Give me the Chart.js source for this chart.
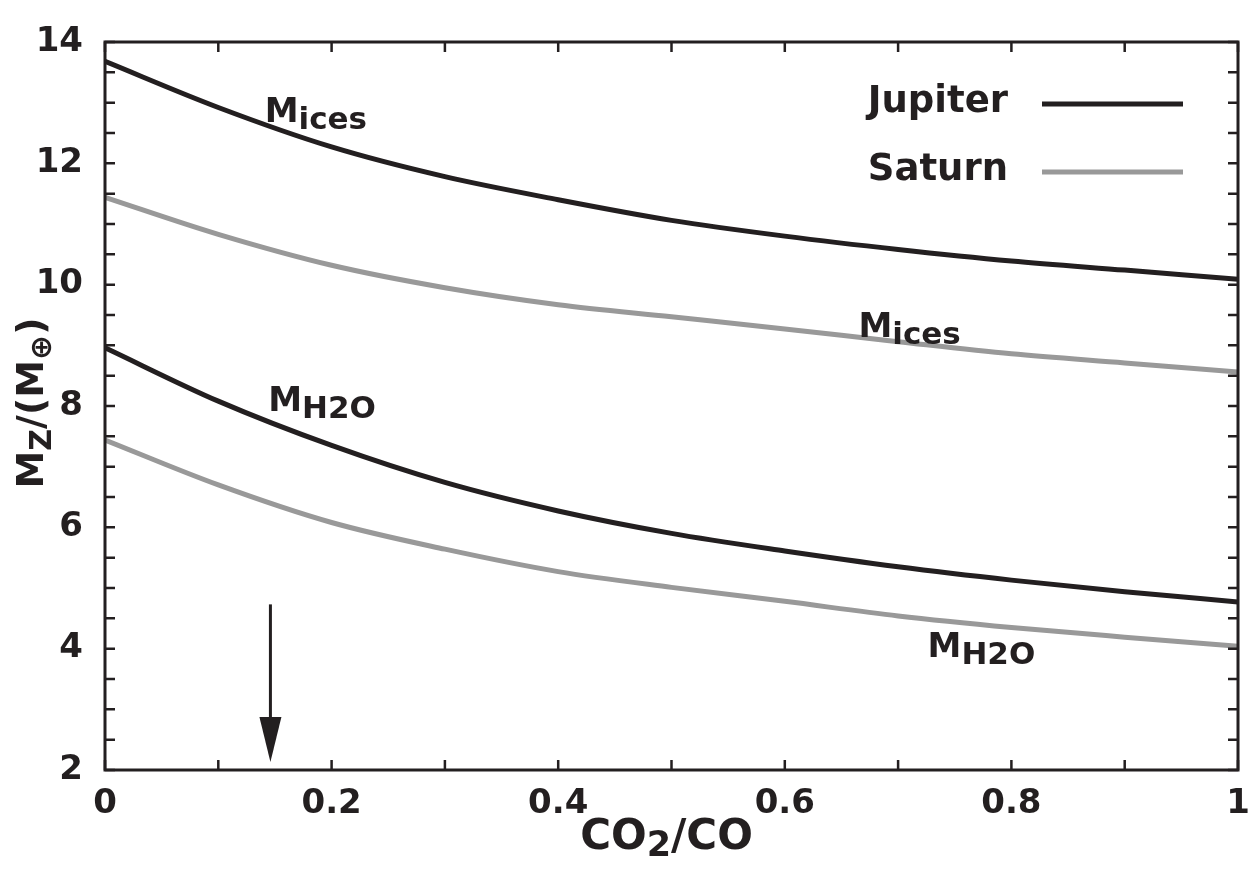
<!DOCTYPE html>
<html>
<head>
<meta charset="utf-8">
<script src="https://cdn.jsdelivr.net/npm/chart.js@4.4.0/dist/chart.umd.min.js"></script>
<style>
  html, body { margin: 0; padding: 0; background: #fff; }
  #wrap { width: 1250px; height: 873px; }
</style>
</head>
<body>
<div id="wrap"><canvas id="massChart"></canvas></div>
<script>
// CO2/CO ratio and heavy-element masses (Earth masses)
const ratio = [0, 0.1, 0.2, 0.3, 0.4, 0.5, 0.6, 0.7, 0.8, 0.9, 1];
const jupiterIces = [13.68, 12.92, 12.27, 11.78, 11.40, 11.06, 10.80, 10.58, 10.39, 10.24, 10.09];
const saturnIces = [11.44, 10.83, 10.32, 9.95, 9.67, 9.47, 9.27, 9.06, 8.86, 8.71, 8.56];
const jupiterH2O = [8.96, 8.08, 7.35, 6.74, 6.27, 5.90, 5.61, 5.35, 5.13, 4.94, 4.77];
const saturnH2O = [7.44, 6.70, 6.08, 5.64, 5.27, 5.01, 4.78, 4.54, 4.35, 4.19, 4.04];
const planets = ['Jupiter', 'Saturn'];

// arrow marking the adopted ratio
const arrowX = 0.146;
const arrowFrom = 4.73;
const arrowTo = 2.13;

const ink = '#231f20';
const grey = '#999999';
const family = '"DejaVu Sans", Verdana, sans-serif';

function pts(ys) {
    return ys.map((y, i) => ({ x: ratio[i], y: y }));
}

// text with a subscript part
function subText(ctx, x, y, parts, size, subSize, drop) {
    ctx.textAlign = 'left';
    ctx.textBaseline = 'alphabetic';
    parts.forEach(p => {
        const s = p[1] ? subSize : size;
        ctx.font = 'bold ' + s + 'px ' + family;
        ctx.fillText(p[0], x, y + (p[1] ? drop : 0));
        x += ctx.measureText(p[0]).width;
    });
    return x;
}
function subWidth(ctx, parts, size, subSize) {
    let w = 0;
    parts.forEach(p => {
        ctx.font = 'bold ' + (p[1] ? subSize : size) + 'px ' + family;
        w += ctx.measureText(p[0]).width;
    });
    return w;
}

const framePlugin = {
    id: 'frame',
    afterDatasetsDraw(chart) {
        const ctx = chart.ctx;
        const a = chart.chartArea;
        const xs = chart.scales.x, ys = chart.scales.y;
        ctx.save();
        ctx.strokeStyle = ink;
        ctx.fillStyle = ink;

        // inward ticks on all sides
        ctx.lineWidth = 2.5;
        ctx.beginPath();
        xs.ticks.forEach(t => {
            const px = xs.getPixelForValue(t.value);
            ctx.moveTo(px, a.bottom); ctx.lineTo(px, a.bottom - 10);
            ctx.moveTo(px, a.top); ctx.lineTo(px, a.top + 10);
        });
        ys.ticks.forEach(t => {
            const py = ys.getPixelForValue(t.value);
            ctx.moveTo(a.left, py); ctx.lineTo(a.left + 10, py);
            ctx.moveTo(a.right, py); ctx.lineTo(a.right - 10, py);
        });
        ctx.stroke();

        ctx.lineWidth = 3;
        ctx.strokeRect(a.left, a.top, a.right - a.left, a.bottom - a.top);

        // arrow
        const ax = xs.getPixelForValue(arrowX);
        const ay0 = ys.getPixelForValue(arrowFrom);
        const ay1 = ys.getPixelForValue(arrowTo);
        ctx.lineWidth = 3;
        ctx.beginPath();
        ctx.moveTo(ax, ay0); ctx.lineTo(ax, ay1 - 40);
        ctx.stroke();
        ctx.beginPath();
        ctx.moveTo(ax - 11, ay1 - 45);
        ctx.lineTo(ax + 11, ay1 - 45);
        ctx.lineTo(ax, ay1);
        ctx.closePath();
        ctx.fill();

        // curve labels
        const notes = [
            [0.141, 12.68, 'ices'],
            [0.665, 9.14, 'ices'],
            [0.144, 7.91, 'H2O'],
            [0.726, 3.86, 'H2O']
        ];
        notes.forEach(n => {
            subText(ctx, xs.getPixelForValue(n[0]), ys.getPixelForValue(n[1]),
                [['M', false], [n[2], true]], 34, 31, 7);
        });

        // legend
        chart.data.datasets.slice(0, 2).forEach((ds, i) => {
            const yy = a.top + 62 + i * 68;
            ctx.fillStyle = ink;
            ctx.font = 'bold 37px ' + family;
            ctx.textAlign = 'right';
            ctx.textBaseline = 'middle';
            ctx.fillText(ds.label, a.right - 230, yy - 2);
            ctx.strokeStyle = ds.borderColor;
            ctx.lineWidth = 5;
            ctx.beginPath();
            ctx.moveTo(a.right - 196, yy);
            ctx.lineTo(a.right - 55, yy);
            ctx.stroke();
        });

        // axis titles
        ctx.fillStyle = ink;
        const xt = [['CO', false], ['2', true], ['/CO', false]];
        const xw = subWidth(ctx, xt, 42, 35);
        subText(ctx, (a.left + a.right) / 2 - xw / 2 - 5, 849, xt, 42, 35, 7);

        const yt = [['M', false], ['Z', true], ['/(M', false], ['\u2295', true], [')', false]];
        const yw = subWidth(ctx, yt, 38, 30);
        ctx.translate(43, 403);
        ctx.rotate(-Math.PI / 2);
        subText(ctx, -yw / 2, 0, yt, 38, 30, 8);
        ctx.restore();
    }
};

const ctx = document.getElementById('massChart').getContext('2d');
new Chart(ctx, {
    type: 'line',
    data: {
        datasets: [
            { label: planets[0], data: pts(jupiterIces), borderColor: ink },
            { label: planets[1], data: pts(saturnIces), borderColor: grey },
            { label: planets[0] + ' H2O', data: pts(jupiterH2O), borderColor: ink },
            { label: planets[1] + ' H2O', data: pts(saturnH2O), borderColor: grey }
        ]
    },
    options: {
        responsive: true,
        maintainAspectRatio: false,
        animation: false,
        devicePixelRatio: 1,
        layout: { padding: { top: 42, right: 12, left: 0, bottom: 0 } },
        datasets: {
            line: {
                borderWidth: 5,
                pointRadius: 0,
                fill: false,
                cubicInterpolationMode: 'monotone'
            }
        },
        plugins: {
            legend: { display: false },
            tooltip: { enabled: false }
        },
        scales: {
            x: {
                type: 'linear',
                min: 0,
                max: 1,
                grid: { display: false },
                border: { display: false },
                ticks: {
                    stepSize: 0.1,
                    autoSkip: false,
                    maxRotation: 0,
                    padding: 6,
                    color: ink,
                    font: { family: family, size: 34, weight: 'bold' },
                    callback: v => {
                        const k = Math.round(v * 10);
                        if (k % 2) return '';
                        return k === 0 ? '0' : k === 10 ? '1' : (k / 10).toFixed(1);
                    }
                },
                afterFit: s => {
                    s.height = 103;
                    s.paddingLeft = 0;
                    s.paddingRight = 0;
                }
            },
            y: {
                min: 2,
                max: 14,
                grid: { display: false },
                border: { display: false },
                ticks: {
                    stepSize: 0.5,
                    autoSkip: false,
                    padding: 14,
                    color: ink,
                    font: { family: family, size: 34, weight: 'bold' },
                    callback: v => (Number.isInteger(v) && v % 2 === 0) ? String(v) : ''
                },
                afterFit: s => { s.width = 105; }
            }
        }
    },
    plugins: [framePlugin]
});
</script>
</body>
</html>
